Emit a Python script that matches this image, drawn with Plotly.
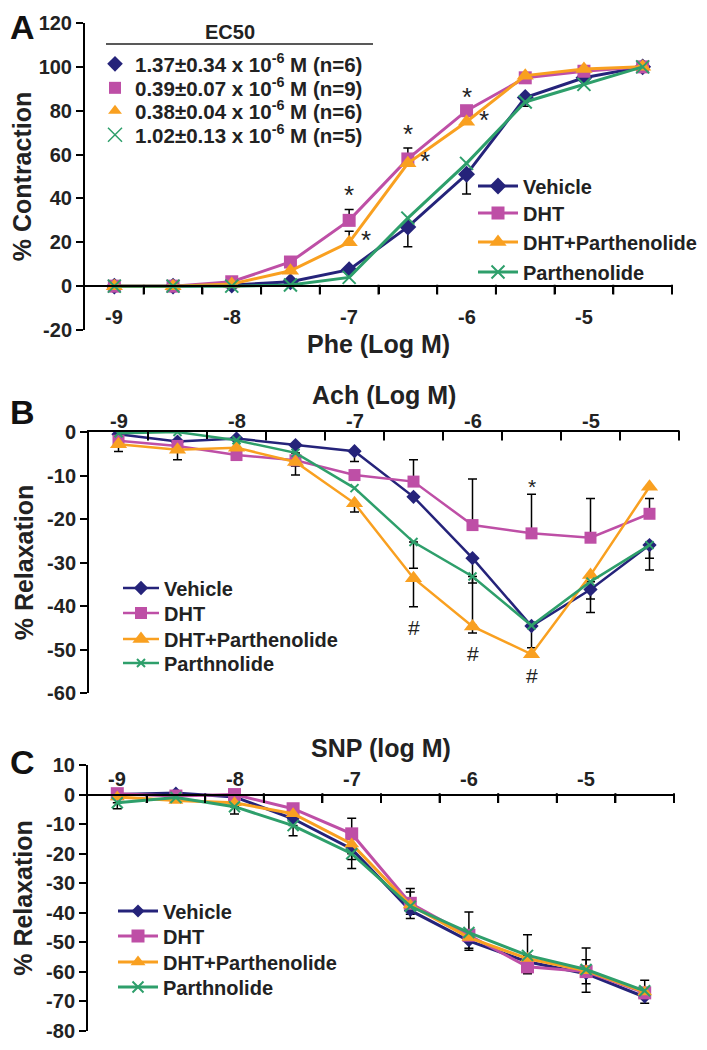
import plotly.graph_objects as go

# doses (log M), shared by all three panels
DOSES = [-9, -8.5, -8, -7.5, -7, -6.5, -6, -5.5, -5, -4.5]
X_LABELS = [-9, -8, -7, -6, -5]

# ---- panel A: % contraction to phenylephrine ----
A_VEH = [0, 0, 0.5, 2, 7.5, 27, 51, 86, 95, 100]
A_VEH_UP = [None, None, None, None, None, None, None, None, None, None]
A_VEH_DN = [None, None, None, None, 1, 9, 9, 4, None, 1]
A_DHT = [0, 0, 2, 11, 30, 58, 80, 95, 98, 100]
A_DHT_UP = [None, None, None, None, 5, 5, None, None, None, None]
A_DHT_DN = [None, None, None, None, None, None, None, None, None, None]
A_DHP = [0, 0, 1, 7, 20, 56, 75, 96, 99, 100]
A_DHP_UP = [None, None, None, None, 5, None, None, None, None, None]
A_DHP_DN = [None, None, None, None, None, None, None, None, None, None]
A_PAR = [0, 0, 0, 0.5, 4, 31, 56, 84, 92, 100]
A_PAR_UP = [None, None, None, None, None, None, None, None, None, None]
A_PAR_DN = [None, None, None, None, None, None, None, None, None, None]
A_STAR_DOSES = [-7, -6.5, -6]
A_YTICKS = [-20, 0, 20, 40, 60, 80, 100, 120]

EC50_TEXT = [
    "1.37±0.34 x 10<sup>-6</sup> M (n=6)",
    "0.39±0.07 x 10<sup>-6</sup> M (n=9)",
    "0.38±0.04 x 10<sup>-6</sup> M (n=6)",
    "1.02±0.13 x 10<sup>-6</sup> M (n=5)",
]

# ---- panel B: % relaxation to acetylcholine ----
B_VEH = [-0.5, -2.2, -1.5, -3, -4.4, -14.9, -29, -44.6, -36.2, -26]
B_VEH_UP = [None, None, None, None, None, None, None, None, None, None]
B_VEH_DN = [None, None, None, None, 2.4, None, 15.5, 5, 5.3, 5.7]
B_DHT = [-2, -3.2, -5.3, -6.5, -9.9, -11.4, -21.4, -23.3, -24.3, -18.8]
B_DHT_UP = [None, None, None, None, None, 5, 10.6, 9, 9, 3.5]
B_DHT_DN = [2.5, 3.2, None, None, None, None, None, None, None, None]
B_DHP = [-2.8, -4.1, -3.6, -6.9, -16.4, -33.6, -44.7, -51.1, -32.9, -12.6]
B_DHP_UP = [None, None, None, None, None, None, None, None, None, None]
B_DHP_DN = [None, None, None, 3, 2, 6.6, 1.5, None, None, None]
B_PAR = [-0.3, 0, -1.9, -4.8, -12.9, -25.3, -33.2, -44.5, -34.4, -26]
B_PAR_UP = [None, None, None, None, None, None, None, None, None, None]
B_PAR_DN = [None, None, None, 3, None, 6, 1.5, None, 4, 3]
B_STAR_DOSES = [-5.5]
B_HASH_DOSES = [-6.5, -6, -5.5]
B_YTICKS = [-60, -50, -40, -30, -20, -10, 0]

# ---- panel C: % relaxation to SNP ----
C_VEH = [0, 0.5, -0.8, -8.2, -18.4, -39.2, -49.5, -56.6, -60.6, -68.5]
C_VEH_UP = [None, None, None, None, None, None, None, None, None, None]
C_VEH_DN = [None, None, None, None, 3.6, 2.7, 3.2, 4, 3.4, 2.1]
C_DHT = [0.3, -0.5, 0, -4.8, -13.3, -36.8, -47.6, -58.3, -59.9, -67.1]
C_DHT_UP = [None, None, None, 1.7, 5.3, 5, None, None, None, None]
C_DHT_DN = [None, None, None, None, None, None, None, 2.2, 7, None]
C_DHP = [-0.8, -2, -2.8, -6.5, -16.7, -37.4, -48.4, -55.5, -59.6, -66.8]
C_DHP_UP = [None, None, None, None, None, 4.4, None, None, 3.7, None]
C_DHP_DN = [None, None, None, None, None, None, 3.6, None, None, None]
C_PAR = [-2.8, -1, -4.1, -10.5, -20, -37.8, -46.7, -54.4, -59.2, -66.4]
C_PAR_UP = [None, None, None, None, None, None, 7, 7, 7.3, 3.6]
C_PAR_DN = [2, None, 2.5, 3.4, 5, 2.7, None, None, None, None]
C_YTICKS = [-80, -70, -60, -50, -40, -30, -20, -10, 0, 10]

NAMES_A = ["Vehicle", "DHT", "DHT+Parthenolide", "Parthenolide"]
NAMES_BC = ["Vehicle", "DHT", "DHT+Parthenolide", "Parthnolide"]
X_TITLES = {"A": "Phe (Log M)", "B": "Ach (Log M)", "C": "SNP (log M)"}
COLORS = ["#25237A", "#BE4FA6", "#F9A020", "#2E9F6B"]
SYMBOLS = ["diamond", "square", "triangle-up", "x-thin"]

FONT = "Liberation Sans, Arial, sans-serif"
INK = "#222222"

# the page body adds an 8px margin, so the figure is drawn 8px in from the corner
OFF = 8
FW, FH = 707 - OFF, 1050 - OFF


def px(x):
    return (x - OFF) / FW


def py(y):
    return 1 - (y - OFF) / FH


# plot areas in page pixels: (left, right, top, bottom)
BOX = {
    "A": (85, 672, 23, 330),
    "B": (89, 679, 432, 693),
    "C": (88, 674, 765, 1031),
}
YRANGE = {"A": (-20, 120), "B": (-60, 0), "C": (-80, 10)}
AXES = {"A": ("x", "y"), "B": ("x2", "y2"), "C": ("x3", "y3")}
# page rows of the dose labels and of the x titles
XLAB_Y = {"A": 317, "B": 421, "C": 779}
XTITLE_Y = {"A": 344, "B": 395, "C": 748}
TICK_PX = 7

# legend rows (page pixels): text left edge, row centres
LEG_ROWS = {"A": (522, [186, 213, 242, 272]),
            "B": (163, [588, 613, 639, 663]),
            "C": (162, [911, 936, 962, 987])}
EC50_ROWS = (128, [64, 88, 111, 135])

fig = go.Figure()

panels = [
    ("A", [A_VEH, A_DHT, A_DHP, A_PAR], [A_VEH_UP, A_DHT_UP, A_DHP_UP, A_PAR_UP],
     [A_VEH_DN, A_DHT_DN, A_DHP_DN, A_PAR_DN]),
    ("B", [B_VEH, B_DHT, B_DHP, B_PAR], [B_VEH_UP, B_DHT_UP, B_DHP_UP, B_PAR_UP],
     [B_VEH_DN, B_DHT_DN, B_DHP_DN, B_PAR_DN]),
    ("C", [C_VEH, C_DHT, C_DHP, C_PAR], [C_VEH_UP, C_DHT_UP, C_DHP_UP, C_PAR_UP],
     [C_VEH_DN, C_DHT_DN, C_DHP_DN, C_PAR_DN]),
]

# tick marks between doses, hanging down from the y = 0 dose axis:
# short vertical-line markers centred half a tick below the axis
bounds = [d + 0.25 for d in DOSES]
for key in "ABC":
    xa, ya = AXES[key]
    l, r, t, b = BOX[key]
    lo, hi = YRANGE[key]
    tick_len = TICK_PX * (hi - lo) / (b - t)
    fig.add_trace(go.Scatter(
        x=bounds, y=[-tick_len / 2 for _ in bounds], mode="markers",
        xaxis=xa, yaxis=ya, showlegend=False, hoverinfo="skip", cliponaxis=False,
        marker=dict(symbol="line-ns", size=TICK_PX, color="black",
                    line=dict(color="black", width=2)),
    ))

# error bars first, so the curves sit on top of them
for key, series, ups, dns in panels:
    xa, ya = AXES[key]
    for y, up, dn in zip(series, ups, dns):
        ex, ey, eu, ed = [], [], [], []
        for d, v, u, m in zip(DOSES, y, up, dn):
            if u is None and m is None:
                continue
            ex.append(d)
            ey.append(v)
            eu.append(u or 0)
            ed.append(m or 0)
        if not ex:
            continue
        fig.add_trace(go.Scatter(
            x=ex, y=ey, mode="markers", xaxis=xa, yaxis=ya,
            marker=dict(size=1, opacity=0), showlegend=False, hoverinfo="skip",
            error_y=dict(type="data", symmetric=False, array=eu, arrayminus=ed,
                         color="black", thickness=1.5, width=4.5),
        ))

LINE_W = {"A": 3, "B": 2.5, "C": 3}
MSIZE = {
    "A": [13, 13, 15, 13],
    "B": [11, 12, 15, 8],
    "C": [10, 13, 13, 11],
}
ITEMW = {"A": 40, "B": 36, "C": 40}
legend_font = dict(size=20, family=FONT, color=INK, weight="bold")
legends = {}
n_leg = 0


def new_legend(text_x, row_y, itemwidth, gap, font):
    global n_leg
    n_leg += 1
    lid = "legend" if n_leg == 1 else "legend%d" % n_leg
    legends[lid] = dict(x=px(text_x - itemwidth - gap), y=py(row_y), xanchor="left",
                        yanchor="middle", font=font, itemwidth=itemwidth,
                        bgcolor="rgba(0,0,0,0)", borderwidth=0)
    return lid


for key, series, ups, dns in panels:
    xa, ya = AXES[key]
    names = NAMES_A if key == "A" else NAMES_BC
    tx, rows = LEG_ROWS[key]
    for i, y in enumerate(series):
        sym = SYMBOLS[i]
        marker = dict(symbol=sym, size=MSIZE[key][i], color=COLORS[i])
        if sym == "x-thin":
            marker["line"] = dict(color=COLORS[i], width=2)
        else:
            marker["line"] = dict(width=0)
        fig.add_trace(go.Scatter(
            x=DOSES, y=y, mode="lines+markers", name=names[i],
            xaxis=xa, yaxis=ya,
            legend=new_legend(tx, rows[i], ITEMW[key], 9, legend_font),
            line=dict(color=COLORS[i], width=LINE_W[key]), marker=marker,
        ))

# EC50 key (markers only, no data)
ec50_font = dict(size=20.5, family=FONT, color=INK, weight="bold")
for i, txt in enumerate(EC50_TEXT):
    sym = SYMBOLS[i]
    marker = dict(symbol=sym, size=12, color=COLORS[i])
    if sym == "x-thin":
        marker["line"] = dict(color=COLORS[i], width=1.5)
        marker["size"] = 14
    fig.add_trace(go.Scatter(
        x=[None], y=[None], mode="markers", name=txt, xaxis="x", yaxis="y",
        legend=new_legend(EC50_ROWS[0], EC50_ROWS[1][i], 30, 3, ec50_font),
        marker=marker,
    ))

annotations = []
mark_font = dict(size=26, family=FONT, color=INK)
# significance marks in A
for d in A_STAR_DOSES:
    i = DOSES.index(d)
    annotations.append(dict(x=d, y=A_DHT[i] + (A_DHT_UP[i] or 0), xref="x", yref="y",
                            text="*", showarrow=False, yshift=14, font=mark_font))
    annotations.append(dict(x=d, y=A_DHP[i], xref="x", yref="y", text="*",
                            showarrow=False, xshift=17, yshift=2, font=mark_font))
for d in B_STAR_DOSES:
    i = DOSES.index(d)
    annotations.append(dict(x=d, y=B_DHT[i] + (B_DHT_UP[i] or 0), xref="x2", yref="y2",
                            text="*", showarrow=False, yshift=8,
                            font=dict(size=21, family=FONT, color=INK)))
for d in B_HASH_DOSES:
    i = DOSES.index(d)
    annotations.append(dict(x=d, y=B_DHP[i] - (B_DHP_DN[i] or 0), xref="x2", yref="y2",
                            text="#", showarrow=False, yshift=-21,
                            font=dict(size=21, family=FONT, color=INK)))

# dose labels and x titles (the dose axis sits at y = 0, labels between the ticks)
tickfont = dict(size=20, family=FONT, color=INK, weight="bold")
for key in "ABC":
    xa = AXES[key][0]
    for v in X_LABELS:
        annotations.append(dict(x=v, y=py(XLAB_Y[key]), xref=xa, yref="paper", text=str(v),
                                xanchor="center", yanchor="middle", showarrow=False,
                                font=tickfont))
    l, r, t, b = BOX[key]
    annotations.append(dict(x=px((l + r) / 2), y=py(XTITLE_Y[key]), xref="paper",
                            yref="paper", text=X_TITLES[key], xanchor="center",
                            yanchor="middle", showarrow=False,
                            font=dict(size=25, family=FONT, color=INK, weight="bold")))

# panel letters
for letter, (lx, ly) in {"A": (22, 27), "B": (22, 412), "C": (22, 762)}.items():
    annotations.append(dict(x=px(lx), y=py(ly), xref="paper", yref="paper",
                            xanchor="center", yanchor="middle", text=letter,
                            showarrow=False,
                            font=dict(size=34, family=FONT, color="#111", weight="bold")))

# EC50 heading
annotations.append(dict(x=px(230), y=py(32), xref="paper", yref="paper", text="EC50",
                        xanchor="center", yanchor="middle", showarrow=False,
                        font=dict(size=20, family=FONT, color=INK, weight="bold")))

shapes = [dict(type="line", xref="paper", yref="paper", x0=px(106), x1=px(373),
               y0=py(44), y1=py(44), line=dict(color=INK, width=1.5))]


def zero_pos(key):
    l, r, t, b = BOX[key]
    lo, hi = YRANGE[key]
    return py(b) + (0 - lo) / (hi - lo) * (py(t) - py(b))


def xaxis(key, side, tickdir, position=None):
    l, r, t, b = BOX[key]
    ax = dict(
        type="linear", domain=[px(l), px(r)], range=[-9.25, -4.25], side=side,
        automargin=False, showticklabels=False, tickmode="array", tickvals=bounds,
        ticks=tickdir, ticklen=TICK_PX, tickwidth=2, tickcolor="black",
        showline=True, linecolor="black", linewidth=2, showgrid=False, zeroline=False,
    )
    if position is None:
        ax["anchor"] = AXES[key][1]
    else:
        ax["anchor"] = "free"
        ax["position"] = position
    return ax


def yaxis(key, ticks, title):
    l, r, t, b = BOX[key]
    lo, hi = YRANGE[key]
    return dict(
        domain=[py(b), py(t)], range=[lo, hi], anchor=AXES[key][0], automargin=False,
        tickvals=ticks, ticktext=[str(v) for v in ticks], ticks="outside",
        ticklen=7, tickwidth=2, tickcolor="black", showline=True, linecolor="black",
        linewidth=2, showgrid=False, zeroline=False, tickfont=tickfont,
        title=dict(text=title, font=dict(size=25, family=FONT, color=INK, weight="bold"),
                   standoff=6),
    )


fig.update_layout(
    template="none",
    width=FW, height=FH, margin=dict(l=0, r=0, t=0, b=0, autoexpand=False),
    paper_bgcolor="white", plot_bgcolor="white",
    font=dict(family=FONT, color=INK),
    xaxis=xaxis("A", "bottom", "outside", zero_pos("A")),
    yaxis=yaxis("A", A_YTICKS, "% Contraction"),
    xaxis2=xaxis("B", "top", "inside"),
    yaxis2=yaxis("B", B_YTICKS, "% Relaxation"),
    xaxis3=xaxis("C", "top", "inside", zero_pos("C")),
    yaxis3=yaxis("C", C_YTICKS, "% Relaxation"),
    annotations=annotations,
    shapes=shapes,
    **legends,
)

fig.write_html("out.html")
